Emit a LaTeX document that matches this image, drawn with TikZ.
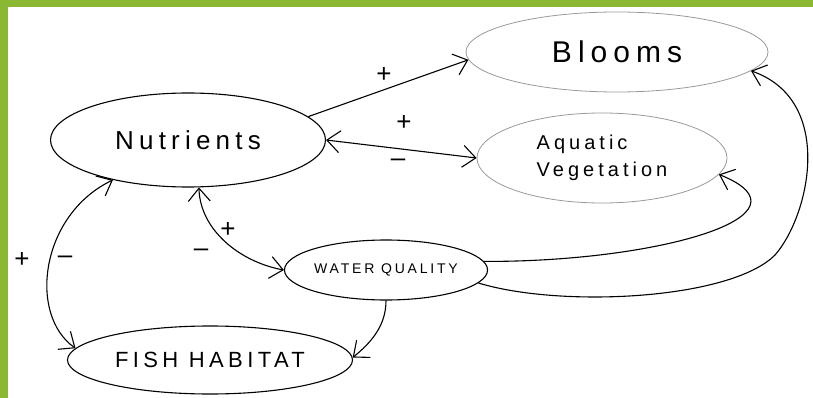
\documentclass[tikz,border=0pt]{standalone}
\usepackage{fontspec}
\newfontfamily\hand{Liberation Sans}[LetterSpace=20]
\usepackage{tikz}
\usetikzlibrary{shapes.geometric,arrows.meta}
\definecolor{leafgreen}{RGB}{138,184,51}

\begin{document}
\begin{tikzpicture}
	[x=1pt,y=-1pt,>={Straight Barb[length=13pt,width=22pt]},every node/.style={inner sep=0pt}]
	\tikzstyle{blob} = [ellipse, draw, line width=1.1pt];
	\tikzstyle{faint} = [ellipse, draw=black!40, line width=0.8pt];
	\tikzstyle{edges} = [line width=1.1pt];
	\tikzstyle{sign} = [font=\hand\fontsize{26}{26}\selectfont];

	\useasboundingbox (0,0) rectangle (813,398);
	\fill[leafgreen] (0,0) rectangle (813,7);
	\fill[leafgreen] (0,0) rectangle (8,398);

	\node[faint, minimum width=302pt, minimum height=80pt, font=\hand\fontsize{30}{30}\selectfont] (blo) at (617,52) {Blooms};
	\node[blob, minimum width=275pt, minimum height=94pt, font=\hand\fontsize{26}{28}\selectfont] (nut) at (188,140) {Nutrients};
	\node[faint, minimum width=250pt, minimum height=90pt, align=left, font=\hand\fontsize{20}{27}\selectfont] (aq) at (602,158) {Aquatic\\Vegetation};
	\node[blob, minimum width=202pt, minimum height=60pt, font=\hand\fontsize{14}{14}\selectfont] (wq) at (386,270) {WATER QUALITY};
	\node[blob, minimum width=285pt, minimum height=68pt, font=\hand\fontsize{22}{22}\selectfont] (fish) at (210,360) {FISH HABITAT};

	\draw[edges,->] (nut.11) -- (blo.183);
	\draw[edges,<->] (nut.east) -- (aq.180);
	\draw[edges,<->] (nut.-77) .. controls (200,230) and (240,262) .. (wq.180);
	\draw[edges,<->] (nut.208) .. controls (40,215) and (28,315) .. (fish.175);
	\draw[edges,->] (wq.south) .. controls (386,325) and (372,342) .. (fish.1);
	\draw[edges,->] (wq.5) .. controls (660,262) and (820,215) .. (aq.-8);
	\draw[edges,->] (wq.-8) .. controls (560,308) and (730,300) .. (775,255)
		.. controls (810,215) and (835,100) .. (blo.-8);

	\node[sign] (s1) at (384,75) {+};
	\node[sign] (s2) at (404,123) {+};
	\node[sign] (s3) at (398,163) {–};
	\node[sign] (s4) at (228,230) {+};
	\node[sign] (s5) at (201,253) {–};
	\node[sign] (s6) at (22,260) {+};
	\node[sign] (s7) at (65,260) {–};
\end{tikzpicture}
\end{document}
